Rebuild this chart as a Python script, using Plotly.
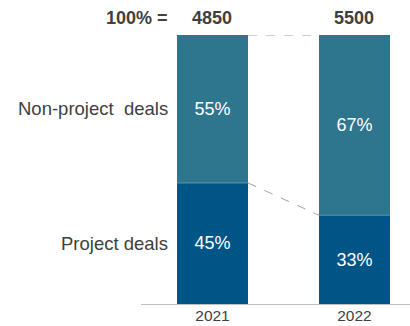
import plotly.graph_objects as go

years = ["2021", "2022"]
totals = ["4850", "5500"]
project = [45, 33]
non_project = [55, 67]
segment_names = ["Project deals", "Non-project\u00a0\u00a0deals"]
total_label = "100% ="

c_bottom = "#005587"
c_top = "#2E758E"
txt = "#404040"
FONT = "Liberation Sans, Arial"

fig = go.Figure()
fig.add_trace(go.Bar(x=years, y=project, marker=dict(color=c_bottom, line=dict(width=0)),
                     text=[f"{v}%" for v in project], textposition="inside",
                     insidetextanchor="middle", textfont=dict(color="white", size=18),
                     width=0.5, name=segment_names[0]))
fig.add_trace(go.Bar(x=years, y=non_project, marker=dict(color=c_top, line=dict(width=0)),
                     text=[f"{v}%" for v in non_project], textposition="inside",
                     insidetextanchor="middle", textfont=dict(color="white", size=18),
                     width=0.5, name=segment_names[1]))

# thin light separators between segments
for i, y in enumerate(years):
    fig.add_shape(type="line", xref="x", yref="y", x0=i - 0.25, x1=i + 0.25,
                  y0=project[i], y1=project[i], line=dict(color="#5E96AE", width=1))

# dashed connectors
fig.add_shape(type="line", xref="x", yref="y", x0=0.25, x1=0.75,
              y0=project[0], y1=project[1], line=dict(color="#A0A0A0", width=1, dash="dash"))
fig.add_shape(type="line", xref="x", yref="y", x0=0.25, x1=0.75,
              y0=100, y1=100, line=dict(color="#A0A0A0", width=1, dash="dash"))

# totals
for i, t in enumerate(totals):
    fig.add_annotation(x=i, y=1, xref="x", yref="paper", yanchor="middle", yshift=17,
                       text=f"<b>{t}</b>", showarrow=False,
                       font=dict(size=18, color=txt, family=FONT))
fig.add_annotation(x=-0.30, y=1, xref="x", yref="paper", yanchor="middle", yshift=17,
                   text=f"<b>{total_label}</b>", showarrow=False, xanchor="right",
                   font=dict(size=18, color=txt, family=FONT))

# segment labels (left)
fig.add_annotation(x=-0.30, y=project[0] / 2, xref="x", yref="y", text=segment_names[0],
                   showarrow=False, xanchor="right", font=dict(size=18.5, color=txt))
fig.add_annotation(x=-0.30, y=project[0] + non_project[0] / 2, xref="x", yref="y",
                   text=segment_names[1], showarrow=False, xanchor="right",
                   font=dict(size=18.5, color=txt))

fig.update_layout(
    barmode="stack",
    width=410, height=326,
    margin=dict(l=141, r=0, t=35, b=22),
    plot_bgcolor="white", paper_bgcolor="white",
    showlegend=False,
    font=dict(family=FONT, color=txt),
    xaxis=dict(type="category", range=[-0.5035, 1.391], showline=True, linecolor="#BFBFBF",
               linewidth=1, ticks="", tickfont=dict(size=15.5, color=txt), showgrid=False,
               zeroline=False, ticklabelstandoff=-3),
    yaxis=dict(range=[0, 100], visible=False, showgrid=False, zeroline=False),
    uniformtext=dict(minsize=18, mode="show"),
)
fig.write_html("out.html")
